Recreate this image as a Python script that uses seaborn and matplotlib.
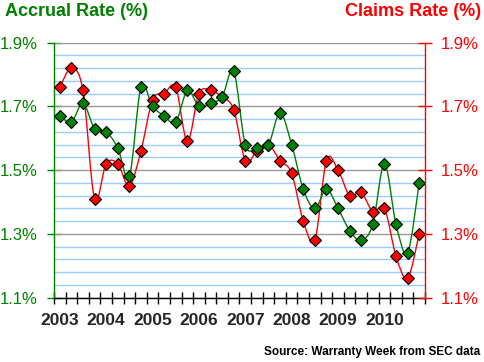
import numpy as np
import pandas as pd
import matplotlib
matplotlib.use("Agg")
import matplotlib.pyplot as plt
from matplotlib.path import Path
from matplotlib.patches import PathPatch
import seaborn as sns

# ---------------- data ----------------
years = ["2003", "2004", "2005", "2006", "2007", "2008", "2009", "2010"]
quarters = ["Q1", "Q2", "Q3", "Q4"]
accrual_rate = [1.67, 1.65, 1.71, 1.63, 1.62, 1.57, 1.48, 1.76,
                1.70, 1.67, 1.65, 1.75, 1.70, 1.71, 1.73, 1.81,
                1.58, 1.57, 1.58, 1.68, 1.58, 1.44, 1.38, 1.44,
                1.38, 1.31, 1.28, 1.33, 1.52, 1.33, 1.24, 1.46]
claims_rate = [1.76, 1.82, 1.75, 1.41, 1.52, 1.52, 1.45, 1.56,
               1.72, 1.74, 1.76, 1.59, 1.74, 1.75, 1.73, 1.69,
               1.53, 1.56, 1.58, 1.53, 1.49, 1.34, 1.28, 1.53,
               1.50, 1.42, 1.43, 1.37, 1.38, 1.23, 1.16, 1.30]
y_ticks = [1.1, 1.3, 1.5, 1.7, 1.9]
y_tick_labels = ["1.1%", "1.3%", "1.5%", "1.7%", "1.9%"]

labels = [f"{y} {q}" for y in years for q in quarters]
df = pd.DataFrame({"quarter": labels,
                   "idx": np.arange(len(labels)),
                   "accrual": accrual_rate,
                   "claims": claims_rate})

GREEN = "#008000"
RED = "#ff0000"

sns.set_style("white")
plt.rcParams["font.family"] = ["Liberation Sans", "DejaVu Sans"]

fig = plt.figure(figsize=(4.85, 3.62), dpi=100)
ax = fig.add_axes([54 / 485, 1 - 297.5 / 362, (425 - 54) / 485, (297.5 - 42.7) / 362])
ax.set_facecolor("white")
fig.patch.set_facecolor("white")


def smooth_path(xs, ys):
    """Excel-style smoothed line (Catmull-Rom as cubic Bezier) in data coords."""
    pts = np.column_stack([xs, ys]).astype(float)
    n = len(pts)
    verts = [pts[0]]
    codes = [Path.MOVETO]
    for i in range(n - 1):
        p0 = pts[i - 1] if i > 0 else pts[i]
        p1 = pts[i]
        p2 = pts[i + 1]
        p3 = pts[i + 2] if i + 2 < n else pts[i + 1]
        c1 = p1 + (p2 - p0) / 6.0
        c2 = p2 - (p3 - p1) / 6.0
        verts += [c1, c2, p2]
        codes += [Path.CURVE4] * 3
    return Path(verts, codes)


# grid lines
for v in np.arange(1.14, 1.9, 0.04):
    if min(abs(v - t) for t in y_ticks) > 1e-6:
        ax.axhline(v, color="#99ccff", lw=1.0, zorder=0.5)
for t in y_ticks:
    ax.axhline(t, color="#999999", lw=1.0, zorder=0.6)

# smoothed lines
ax.add_patch(PathPatch(smooth_path(df["idx"], df["claims"]), facecolor="none",
                       edgecolor=RED, lw=1.0, zorder=2))
ax.add_patch(PathPatch(smooth_path(df["idx"], df["accrual"]), facecolor="none",
                       edgecolor=GREEN, lw=1.0, zorder=3))

# markers
sns.lineplot(data=df, x="idx", y="claims", ax=ax, marker="D", linestyle="none",
             markersize=6.2, markerfacecolor=RED, markeredgecolor="black",
             markeredgewidth=0.8, color=RED, zorder=4)
sns.lineplot(data=df, x="idx", y="accrual", ax=ax, marker="D", linestyle="none",
             markersize=6.2, markerfacecolor=GREEN, markeredgecolor="black",
             markeredgewidth=0.8, color=GREEN, zorder=5)

ax.set_xlim(-0.5, len(labels) - 0.5)
ax.set_ylim(1.1, 1.9)
ax.set_xlabel("")
ax.set_ylabel("")

# x ticks: boundaries (major), year labels (minor)
ax.set_xticks(np.arange(-0.5, len(labels), 1.0))
ax.set_xticklabels([])
ax.set_xticks(np.arange(0, len(labels), 4), minor=True)
ax.set_xticklabels(years, minor=True, fontsize=12.5, fontweight="bold")
ax.tick_params(axis="x", which="major", direction="inout", length=9, width=1,
               color="black", bottom=True)
ax.tick_params(axis="x", which="minor", length=0, pad=11.5, bottom=True)

# left y axis
ax.set_yticks(y_ticks)
ax.set_yticklabels(y_tick_labels)
ax.tick_params(axis="y", which="major", direction="inout", length=10, width=1,
               color=GREEN, labelcolor=GREEN, labelsize=12, pad=6.5, left=True)

# right y axis
ax2 = ax.twinx()
ax2.set_ylim(1.1, 1.9)
ax2.set_yticks(y_ticks)
ax2.set_yticklabels(y_tick_labels)
ax2.tick_params(axis="y", which="major", direction="inout", length=10, width=1,
                color=RED, labelcolor=RED, labelsize=12, pad=6.5, right=True)
ax2.grid(False)

for a in (ax, ax2):
    a.spines["top"].set_visible(False)
    a.spines["left"].set_color(GREEN)
    a.spines["right"].set_color(RED)
    a.spines["bottom"].set_color("black")
    for s in a.spines.values():
        s.set_linewidth(1.0)
ax2.spines["left"].set_visible(False)
ax2.spines["bottom"].set_visible(False)
ax.spines["right"].set_visible(False)

# titles and source
fig.text(5 / 485, 1 - 16.5 / 362, "Accrual Rate (%)", color=GREEN, fontsize=13,
         fontweight="bold", ha="left", va="baseline")
fig.text(481 / 485, 1 - 16.5 / 362, "Claims Rate (%)", color=RED, fontsize=13,
         fontweight="bold", ha="right", va="baseline")
fig.text(480 / 485, 1 - 354.5 / 362, "Source: Warranty Week from SEC data",
         color="black", fontsize=8.5, fontweight="bold", ha="right", va="baseline")

fig.savefig("out.png", dpi=100, facecolor="white")
